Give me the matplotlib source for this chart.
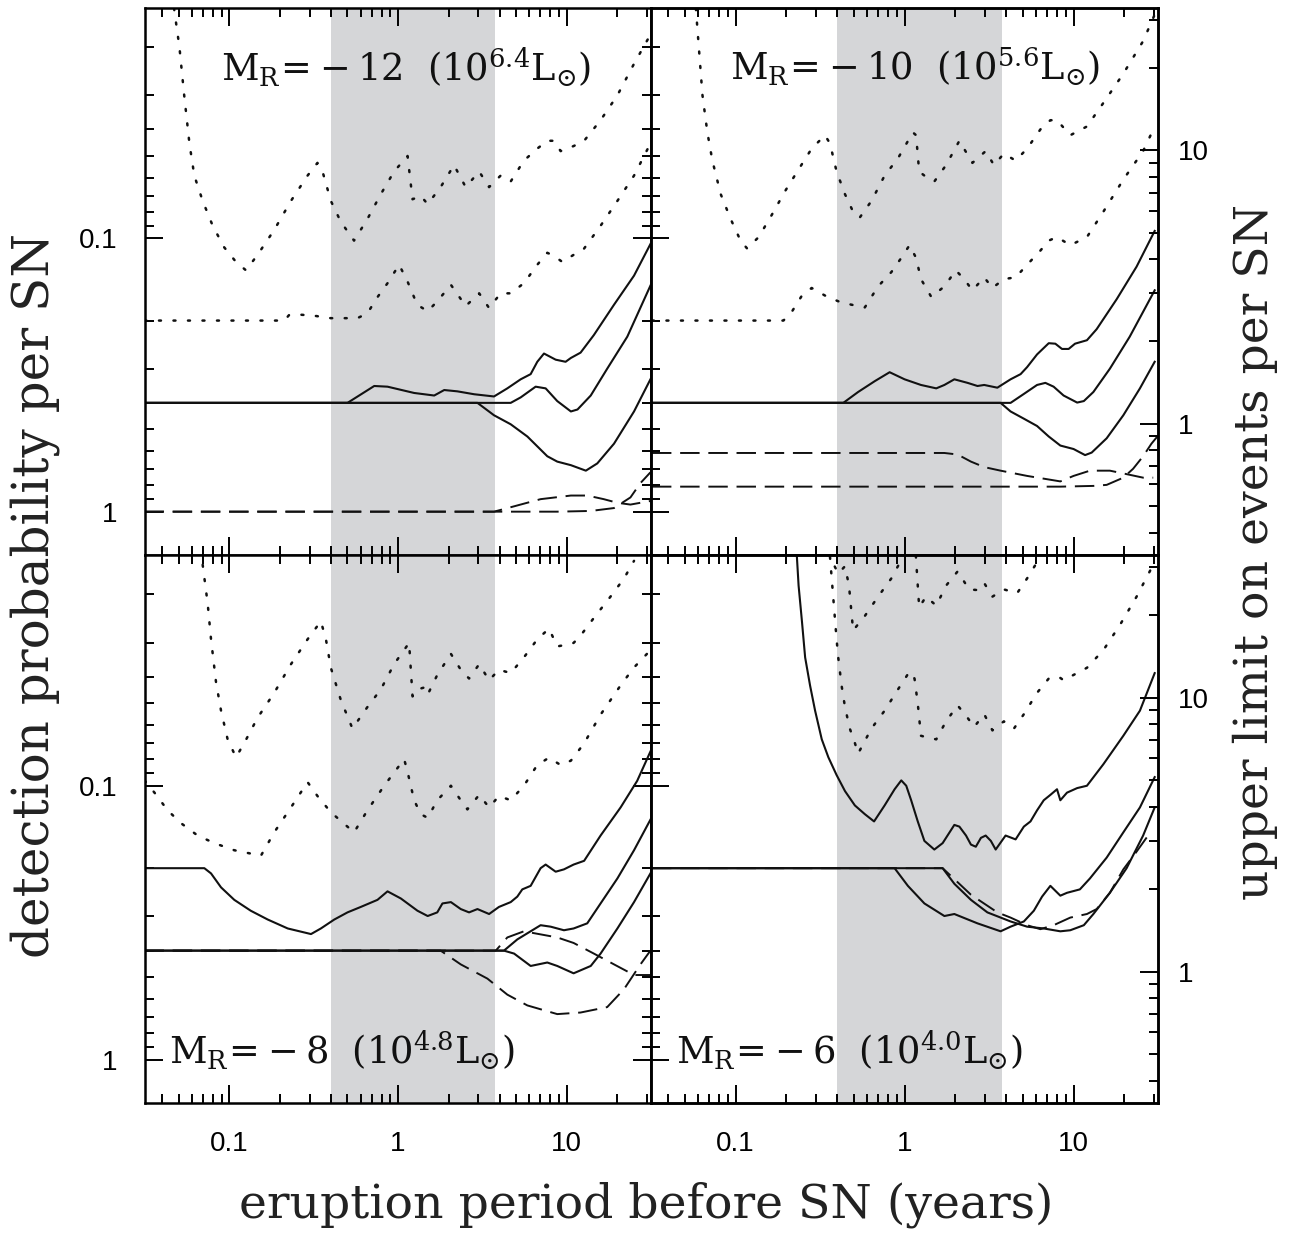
import matplotlib
matplotlib.use('Agg')
import matplotlib.pyplot as plt
from matplotlib.ticker import FixedLocator, LogLocator, NullFormatter, FuncFormatter
import numpy as np

plt.rcParams['mathtext.fontset'] = 'dejavuserif'

# axis setup (x: eruption period in years, y: detection probability, right: upper limit N = C_N / P)
C_N = 0.477
X_LIM = (0.0316, 31.6)
P_LIM = (1.44, 0.01437)          # inverted log axis
X_MAJOR = [0.1, 1, 10]
P_MAJOR = [0.1, 1]
N_MAJOR = [1, 10]
SHADE = (0.40, 3.75)

# ---- M_R = -12 ----
p12_dot_a_x = [0.047, 0.0506, 0.054, 0.058, 0.062, 0.0695, 0.0797, 0.0933, 0.1095, 0.1255, 0.147, 0.185, 0.232, 0.291, 0.333, 0.357, 0.40, 0.458, 0.549, 0.659, 0.791, 0.948, 1.14, 1.22, 1.365, 1.50, 1.79, 2.15, 2.52, 3.03, 3.47, 4.06, 4.66, 5.58, 6.70, 7.68, 8.41, 9.21, 11.0, 12.7, 15.9, 20.0, 25.1, 31.4]
p12_dot_a_p = [0.0144, 0.020, 0.030, 0.045, 0.059, 0.073, 0.090, 0.108, 0.122, 0.131, 0.115, 0.093, 0.073, 0.059, 0.053, 0.057, 0.073, 0.087, 0.102, 0.085, 0.069, 0.057, 0.050, 0.072, 0.070, 0.075, 0.065, 0.054, 0.065, 0.057, 0.065, 0.059, 0.062, 0.052, 0.047, 0.044, 0.044, 0.048, 0.046, 0.044, 0.037, 0.030, 0.023, 0.018]
p12_dot_b_x = [0.0314, 0.212, 0.226, 0.254, 0.318, 0.400, 0.575, 0.659, 0.757, 0.867, 1.016, 1.14, 1.30, 1.50, 1.71, 2.06, 2.52, 3.03, 3.47, 4.06, 4.66, 5.58, 6.70, 7.68, 8.41, 9.42, 11.0, 12.7, 15.9, 20.0, 25.1, 31.4]
p12_dot_b_p = [0.20, 0.20, 0.191, 0.190, 0.192, 0.196, 0.196, 0.188, 0.164, 0.146, 0.125, 0.144, 0.175, 0.185, 0.170, 0.148, 0.177, 0.159, 0.180, 0.159, 0.159, 0.146, 0.125, 0.113, 0.116, 0.122, 0.115, 0.109, 0.090, 0.073, 0.059, 0.045]
p12_sol_a_x = [0.0314, 0.502, 0.723, 0.867, 1.247, 1.64, 1.88, 2.25, 2.83, 3.71, 4.45, 5.34, 6.12, 6.70, 7.34, 8.61, 9.86, 10.6, 12.1, 14.5, 19.1, 25.1, 31.4]
p12_sol_a_p = [0.40, 0.40, 0.347, 0.349, 0.368, 0.376, 0.359, 0.363, 0.372, 0.379, 0.354, 0.328, 0.314, 0.283, 0.264, 0.278, 0.283, 0.274, 0.262, 0.226, 0.175, 0.137, 0.105]
p12_sol_b_x = [0.0314, 4.66, 5.34, 6.55, 7.51, 8.80, 10.6, 11.6, 13.9, 17.4, 22.9, 31.4]
p12_sol_b_p = [0.40, 0.40, 0.382, 0.349, 0.354, 0.394, 0.430, 0.423, 0.376, 0.300, 0.229, 0.149]
p12_sol_c_x = [0.0314, 2.96, 3.71, 4.66, 5.85, 7.68, 8.80, 10.6, 13.0, 15.2, 19.1, 25.1, 31.4]
p12_sol_c_p = [0.40, 0.40, 0.444, 0.479, 0.531, 0.627, 0.656, 0.676, 0.708, 0.666, 0.564, 0.430, 0.328]
p12_dash_a_x = [0.0314, 3.71, 4.88, 7.01, 10.6, 13.25, 16.6, 20.0, 23.9, 31.4]
p12_dash_a_p = [1.0, 1.0, 0.956, 0.90, 0.873, 0.873, 0.90, 0.928, 0.942, 0.914]
p12_dash_b_x = [0.0314, 8.80, 13.9, 19.1, 23.9, 27.4, 31.4]
p12_dash_b_p = [1.0, 1.0, 0.994, 0.970, 0.887, 0.786, 0.718]

# ---- M_R = -10 ----
p10_dot_a_x = [0.0582, 0.0637, 0.0681, 0.0729, 0.0817, 0.0935, 0.107, 0.117, 0.137, 0.164, 0.197, 0.236, 0.282, 0.338, 0.362, 0.396, 0.444, 0.496, 0.543, 0.637, 0.762, 0.914, 1.12, 1.17, 1.22, 1.31, 1.50, 1.76, 2.11, 2.52, 3.02, 3.38, 3.87, 4.54, 5.31, 6.36, 7.29, 7.98, 9.56, 12.0, 15.0, 19.7, 25.8, 30.2]
p10_dot_a_p = [0.0144, 0.030, 0.041, 0.052, 0.069, 0.085, 0.102, 0.109, 0.099, 0.082, 0.067, 0.056, 0.047, 0.042, 0.045, 0.057, 0.069, 0.080, 0.084, 0.073, 0.059, 0.051, 0.041, 0.042, 0.057, 0.059, 0.062, 0.054, 0.044, 0.053, 0.048, 0.054, 0.049, 0.052, 0.047, 0.040, 0.037, 0.037, 0.042, 0.039, 0.032, 0.025, 0.019, 0.0152]
p10_dot_b_x = [0.032, 0.192, 0.216, 0.247, 0.282, 0.338, 0.405, 0.485, 0.582, 0.697, 0.835, 0.956, 1.07, 1.17, 1.25, 1.44, 1.72, 2.01, 2.25, 2.52, 2.96, 3.31, 3.87, 4.54, 5.31, 6.36, 7.13, 7.98, 9.56, 12.0, 15.0, 19.7, 25.8, 30.2]
p10_dot_b_p = [0.20, 0.20, 0.185, 0.162, 0.152, 0.162, 0.170, 0.175, 0.179, 0.150, 0.133, 0.118, 0.106, 0.118, 0.141, 0.164, 0.150, 0.131, 0.141, 0.155, 0.139, 0.152, 0.141, 0.139, 0.125, 0.111, 0.102, 0.099, 0.106, 0.099, 0.080, 0.061, 0.048, 0.039]
p10_sol_a_x = [0.032, 0.434, 0.531, 0.667, 0.816, 1.0, 1.25, 1.54, 1.72, 1.97, 2.36, 2.70, 2.96, 3.54, 4.24, 4.86, 5.31, 6.08, 7.13, 7.80, 8.54, 9.35, 10.2, 12.0, 13.7, 18.0, 23.6, 30.2]
p10_sol_a_p = [0.40, 0.40, 0.365, 0.333, 0.309, 0.328, 0.344, 0.354, 0.344, 0.328, 0.338, 0.347, 0.344, 0.352, 0.328, 0.314, 0.296, 0.266, 0.242, 0.243, 0.254, 0.254, 0.243, 0.236, 0.215, 0.167, 0.127, 0.094]
p10_sol_b_x = [0.032, 4.24, 5.08, 6.08, 6.81, 7.62, 8.73, 10.5, 11.5, 13.1, 16.4, 21.5, 30.2]
p10_sol_b_p = [0.40, 0.40, 0.371, 0.344, 0.338, 0.349, 0.376, 0.399, 0.394, 0.365, 0.300, 0.229, 0.155]
p10_sol_c_x = [0.032, 3.70, 4.24, 5.08, 6.08, 7.13, 8.35, 10.0, 11.7, 12.8, 15.7, 19.7, 24.7, 30.2]
p10_sol_c_p = [0.40, 0.40, 0.430, 0.457, 0.486, 0.531, 0.573, 0.590, 0.621, 0.608, 0.539, 0.444, 0.354, 0.283]
p10_dash_a_x = [0.032, 1.72, 2.06, 2.47, 2.96, 3.70, 5.31, 8.35, 10.0, 12.5, 16.4, 20.6, 25.8, 29.6]
p10_dash_a_p = [0.61, 0.61, 0.618, 0.656, 0.687, 0.708, 0.740, 0.775, 0.740, 0.708, 0.708, 0.729, 0.751, 0.751]
p10_dash_b_x = [0.032, 8.35, 13.1, 15.7, 19.7, 22.5, 25.8, 28.9, 31.4]
p10_dash_b_p = [0.81, 0.81, 0.805, 0.798, 0.751, 0.697, 0.627, 0.564, 0.53]

# ---- M_R = -8 ----
p8_dot_a_x = [0.0695, 0.0744, 0.0779, 0.0834, 0.0893, 0.0977, 0.1095, 0.1227, 0.147, 0.1846, 0.232, 0.291, 0.349, 0.374, 0.400, 0.458, 0.537, 0.659, 0.791, 0.948, 1.164, 1.22, 1.305, 1.429, 1.50, 1.71, 2.06, 2.356, 2.64, 3.03, 3.47, 3.97, 4.66, 5.58, 6.70, 7.86, 8.80, 9.86, 11.0, 12.1, 14.5, 18.2, 21.9, 25.1]
p8_dot_a_p = [0.0156, 0.0216, 0.0292, 0.0419, 0.0532, 0.0677, 0.0787, 0.0698, 0.0565, 0.0458, 0.0360, 0.0292, 0.0251, 0.0292, 0.0371, 0.0486, 0.0618, 0.0516, 0.0445, 0.0360, 0.0301, 0.0472, 0.0445, 0.0438, 0.0465, 0.0394, 0.0330, 0.0377, 0.0406, 0.0360, 0.0412, 0.0377, 0.0388, 0.0340, 0.0292, 0.0267, 0.0310, 0.0306, 0.0301, 0.0283, 0.0244, 0.0204, 0.0175, 0.0151]
p8_dot_b_x = [0.0314, 0.0360, 0.0431, 0.0517, 0.0649, 0.0815, 0.107, 0.154, 0.1846, 0.232, 0.291, 0.333, 0.400, 0.549, 0.659, 0.828, 1.088, 1.14, 1.247, 1.365, 1.50, 1.71, 2.06, 2.356, 2.58, 3.03, 3.47, 3.97, 4.66, 5.58, 6.70, 7.86, 9.21, 10.6, 12.7, 15.9, 20.9, 25.1, 31.4]
p8_dot_b_p = [0.0956, 0.106, 0.123, 0.137, 0.152, 0.162, 0.172, 0.180, 0.148, 0.120, 0.097, 0.109, 0.125, 0.148, 0.123, 0.100, 0.080, 0.089, 0.113, 0.127, 0.131, 0.113, 0.100, 0.113, 0.122, 0.108, 0.120, 0.109, 0.113, 0.100, 0.084, 0.079, 0.084, 0.081, 0.070, 0.055, 0.043, 0.037, 0.032]
p8_sol_a_x = [0.0314, 0.0711, 0.0779, 0.0893, 0.107, 0.134, 0.169, 0.222, 0.305, 0.349, 0.419, 0.502, 0.602, 0.756, 0.867, 1.04, 1.305, 1.50, 1.71, 1.835, 2.06, 2.356, 2.64, 2.96, 3.47, 3.97, 4.66, 5.10, 5.46, 6.12, 7.01, 7.51, 8.61, 9.64, 11.0, 12.7, 15.9, 20.9, 26.2, 31.4]
p8_sol_a_p = [0.20, 0.20, 0.209, 0.235, 0.261, 0.286, 0.308, 0.332, 0.348, 0.332, 0.308, 0.290, 0.277, 0.261, 0.243, 0.258, 0.286, 0.299, 0.290, 0.269, 0.266, 0.282, 0.290, 0.282, 0.294, 0.277, 0.266, 0.254, 0.239, 0.232, 0.200, 0.194, 0.206, 0.202, 0.194, 0.188, 0.152, 0.120, 0.096, 0.075]
p8_sol_b_x = [0.0314, 4.25, 5.10, 7.01, 8.04, 9.64, 11.0, 13.25, 15.9, 20.0, 25.1, 31.4]
p8_sol_b_p = [0.40, 0.40, 0.364, 0.323, 0.327, 0.337, 0.332, 0.318, 0.269, 0.218, 0.172, 0.133]
p8_sol_c_x = [0.0314, 4.25, 4.88, 6.12, 7.68, 8.80, 11.0, 13.9, 15.9, 20.0, 25.1, 31.4]
p8_sol_c_p = [0.40, 0.40, 0.410, 0.455, 0.442, 0.455, 0.484, 0.455, 0.410, 0.332, 0.266, 0.209]
p8_dash_a_x = [0.0314, 3.80, 4.45, 5.58, 8.80, 11.0, 14.5, 19.1, 25.1, 31.4]
p8_dash_a_p = [0.40, 0.40, 0.358, 0.340, 0.358, 0.375, 0.410, 0.449, 0.491, 0.491]
p8_dash_b_x = [0.0314, 1.79, 2.356, 3.39, 4.45, 5.85, 8.80, 12.1, 17.4, 21.9, 27.4, 31.4]
p8_dash_b_p = [0.40, 0.40, 0.449, 0.506, 0.579, 0.634, 0.682, 0.673, 0.643, 0.553, 0.449, 0.40]

# ---- M_R = -6 ----
p6_dot_a_x = [0.354, 0.405, 0.444, 0.469, 0.496, 0.582, 0.697, 0.835, 0.978, 1.07, 1.156, 1.22, 1.34, 1.54, 1.76, 2.06, 2.41, 2.70, 2.96, 3.31, 3.87, 4.64, 5.31, 6.36, 7.29]
p6_dot_a_p = [0.0142, 0.0168, 0.0158, 0.0186, 0.0271, 0.0240, 0.0204, 0.0175, 0.0146, 0.0130, 0.0133, 0.0223, 0.0204, 0.0220, 0.0186, 0.0165, 0.0192, 0.0193, 0.0182, 0.0204, 0.0192, 0.0198, 0.0175, 0.0146, 0.0126]
p6_dot_b_x = [0.362, 0.396, 0.405, 0.424, 0.444, 0.474, 0.508, 0.531, 0.637, 0.762, 0.914, 1.07, 1.145, 1.197, 1.25, 1.37, 1.54, 1.76, 2.06, 2.36, 2.58, 2.96, 3.31, 3.87, 4.44, 5.08, 6.08, 7.13, 8.16, 8.73, 10.0, 12.0, 15.0, 18.8, 23.6, 29.6]
p6_dot_b_p = [0.0146, 0.0292, 0.0340, 0.0431, 0.0516, 0.0618, 0.0698, 0.0763, 0.0618, 0.0532, 0.0445, 0.0383, 0.0406, 0.0501, 0.0657, 0.0667, 0.0677, 0.0582, 0.0509, 0.0565, 0.0610, 0.0548, 0.0628, 0.0582, 0.0618, 0.0548, 0.0458, 0.0406, 0.0400, 0.0412, 0.0394, 0.0371, 0.0320, 0.0259, 0.0204, 0.0156]
p6_sol_a_x = [0.2306, 0.236, 0.247, 0.258, 0.276, 0.2955, 0.3236, 0.354, 0.396, 0.444, 0.508, 0.582, 0.660, 0.762, 0.873, 0.956, 1.023, 1.094, 1.197, 1.31, 1.50, 1.68, 1.97, 2.11, 2.31, 2.47, 2.64, 2.83, 3.02, 3.24, 3.46, 3.96, 4.54, 5.08, 5.56, 6.08, 6.66, 7.29, 7.98, 8.35, 9.14, 10.5, 12.0, 15.0, 19.7, 24.7, 30.2]
p6_sol_a_p = [0.0146, 0.0186, 0.0251, 0.0340, 0.0431, 0.0532, 0.0677, 0.0787, 0.0914, 0.1046, 0.118, 0.127, 0.135, 0.118, 0.103, 0.0956, 0.100, 0.113, 0.135, 0.159, 0.171, 0.162, 0.139, 0.141, 0.152, 0.164, 0.167, 0.155, 0.152, 0.159, 0.171, 0.152, 0.157, 0.141, 0.135, 0.123, 0.113, 0.108, 0.103, 0.113, 0.106, 0.102, 0.100, 0.0835, 0.0657, 0.0532, 0.0388]
p6_sol_b_x = [0.032, 0.873, 1.046, 1.31, 1.72, 1.97, 2.70, 3.70, 4.24, 5.08, 5.82, 6.51, 7.29, 8.35, 9.14, 10.9, 12.5, 15.7, 19.7, 24.7, 30.2]
p6_sol_b_p = [0.20, 0.20, 0.232, 0.269, 0.299, 0.294, 0.318, 0.340, 0.327, 0.313, 0.286, 0.254, 0.232, 0.252, 0.246, 0.239, 0.218, 0.183, 0.148, 0.120, 0.093]
p6_sol_c_x = [0.032, 1.68, 1.97, 2.47, 3.09, 4.24, 5.31, 6.66, 8.35, 9.56, 11.5, 13.1, 16.4, 20.6, 25.8, 30.2]
p6_sol_c_p = [0.20, 0.20, 0.228, 0.261, 0.290, 0.313, 0.327, 0.332, 0.340, 0.337, 0.323, 0.294, 0.246, 0.200, 0.152, 0.120]
p6_dash_x = [0.032, 1.68, 2.06, 2.47, 3.54, 4.24, 5.31, 6.36, 7.62, 9.56, 12.0, 13.7, 16.4, 19.7, 23.6, 27.6]
p6_dash_p = [0.20, 0.20, 0.225, 0.250, 0.290, 0.303, 0.323, 0.334, 0.323, 0.303, 0.294, 0.282, 0.246, 0.202, 0.174, 0.152]

panel_labels = [r'$\mathrm{M_R\!=\!-12\ \ (10^{6.4}L_{\odot})}$',
                r'$\mathrm{M_R\!=\!-10\ \ (10^{5.6}L_{\odot})}$',
                r'$\mathrm{M_R\!=\!-8\ \ (10^{4.8}L_{\odot})}$',
                r'$\mathrm{M_R\!=\!-6\ \ (10^{4.0}L_{\odot})}$']

DOT = dict(color='#111111', lw=1.8, linestyle=(0, (0.8, 5)), dash_capstyle='round')
SOL = dict(color='#111111', lw=1.5)
DSH = dict(color='#111111', lw=1.4, linestyle=(0, (10, 4.5)))

panels = [
    dict(rect=[0.1121, 0.5510, 0.3913, 0.4426], label_xy=(0.516, 0.892), right=False, bottom=False, left=True,
         lines=[(p12_dot_a_x, p12_dot_a_p, DOT), (p12_dot_b_x, p12_dot_b_p, DOT),
                (p12_sol_a_x, p12_sol_a_p, SOL), (p12_sol_b_x, p12_sol_b_p, SOL), (p12_sol_c_x, p12_sol_c_p, SOL),
                (p12_dash_a_x, p12_dash_a_p, DSH), (p12_dash_b_x, p12_dash_b_p, DSH)]),
    dict(rect=[0.5035, 0.5510, 0.3921, 0.4426], label_xy=(0.521, 0.892), right=True, bottom=False, left=False,
         lines=[(p10_dot_a_x, p10_dot_a_p, DOT), (p10_dot_b_x, p10_dot_b_p, DOT),
                (p10_sol_a_x, p10_sol_a_p, SOL), (p10_sol_b_x, p10_sol_b_p, SOL), (p10_sol_c_x, p10_sol_c_p, SOL),
                (p10_dash_a_x, p10_dash_a_p, DSH), (p10_dash_b_x, p10_dash_b_p, DSH)]),
    dict(rect=[0.1121, 0.1076, 0.3913, 0.4434], label_xy=(0.39, 0.097), right=False, bottom=True, left=True,
         lines=[(p8_dot_a_x, p8_dot_a_p, DOT), (p8_dot_b_x, p8_dot_b_p, DOT),
                (p8_sol_a_x, p8_sol_a_p, SOL), (p8_sol_b_x, p8_sol_b_p, SOL), (p8_sol_c_x, p8_sol_c_p, SOL),
                (p8_dash_a_x, p8_dash_a_p, DSH), (p8_dash_b_x, p8_dash_b_p, DSH)]),
    dict(rect=[0.5035, 0.1076, 0.3921, 0.4434], label_xy=(0.392, 0.097), right=True, bottom=True, left=False,
         lines=[(p6_dot_a_x, p6_dot_a_p, DOT), (p6_dot_b_x, p6_dot_b_p, DOT),
                (p6_sol_a_x, p6_sol_a_p, SOL), (p6_sol_b_x, p6_sol_b_p, SOL), (p6_sol_c_x, p6_sol_c_p, SOL),
                (p6_dash_x, p6_dash_p, DSH)]),
]

fmt = FuncFormatter(lambda v, pos: '%g' % v)

fig = plt.figure(figsize=(12.93, 12.36), dpi=100)

for i, pan in enumerate(panels):
    ax = fig.add_axes(pan['rect'])
    ax.set_xscale('log')
    ax.set_yscale('log')
    tw = ax.twinx() if pan['right'] else None

    ax.axvspan(SHADE[0], SHADE[1], color='#d5d6d8', lw=0, zorder=0)
    for xs, ps, st in pan['lines']:
        ax.plot(xs, ps, **st)

    ax.set_xlim(X_LIM)
    ax.set_ylim(P_LIM)
    ax.xaxis.set_major_locator(FixedLocator(X_MAJOR))
    ax.xaxis.set_minor_locator(LogLocator(base=10, subs=np.arange(2, 10), numticks=20))
    ax.xaxis.set_major_formatter(fmt)
    ax.xaxis.set_minor_formatter(NullFormatter())
    ax.yaxis.set_major_locator(FixedLocator(P_MAJOR))
    ax.yaxis.set_minor_locator(LogLocator(base=10, subs=np.arange(2, 10), numticks=20))
    ax.yaxis.set_major_formatter(fmt)
    ax.yaxis.set_minor_formatter(NullFormatter())

    ax.tick_params(which='both', direction='in', top=True, bottom=True, left=True,
                   right=not pan['right'], labelbottom=pan['bottom'], labelleft=pan['left'],
                   labeltop=False, labelright=False, width=1.4, pad=20,
                   labelsize=20, labelfontfamily='Liberation Sans')
    ax.tick_params(which='major', length=13)
    ax.tick_params(which='minor', length=6.5)
    for s in ax.spines.values():
        s.set_linewidth(1.8)

    if tw is not None:
        tw.set_yscale('log')
        tw.set_ylim(C_N / P_LIM[0], C_N / P_LIM[1])
        tw.yaxis.set_major_locator(FixedLocator(N_MAJOR))
        tw.yaxis.set_minor_locator(LogLocator(base=10, subs=np.arange(2, 10), numticks=20))
        tw.yaxis.set_major_formatter(fmt)
        tw.yaxis.set_minor_formatter(NullFormatter())
        tw.tick_params(which='both', direction='in', right=True, left=False, labelright=True,
                       width=1.4, pad=14, labelsize=20, labelfontfamily='Liberation Sans')
        tw.tick_params(which='major', length=13)
        tw.tick_params(which='minor', length=6.5)
        for s in tw.spines.values():
            s.set_linewidth(1.8)

    ax.text(pan['label_xy'][0], pan['label_xy'][1], panel_labels[i], transform=ax.transAxes,
            ha='center', va='center', fontsize=26.5, color='#111111')

fig.text(0.027, 1 - 595 / 1236, 'detection probability per SN', rotation=90, ha='center', va='center',
         fontsize=36, family='DejaVu Serif', color='#222222')
fig.text(0.9706, 1 - 552 / 1236, 'upper limit on events per SN', rotation=90, ha='center', va='center',
         fontsize=34, family='DejaVu Serif', color='#222222')
fig.text(0.4996, 1 - 1205 / 1236, 'eruption period before SN (years)', ha='center', va='center',
         fontsize=34, family='DejaVu Serif', color='#222222')

fig.savefig('out.png', dpi=100)
